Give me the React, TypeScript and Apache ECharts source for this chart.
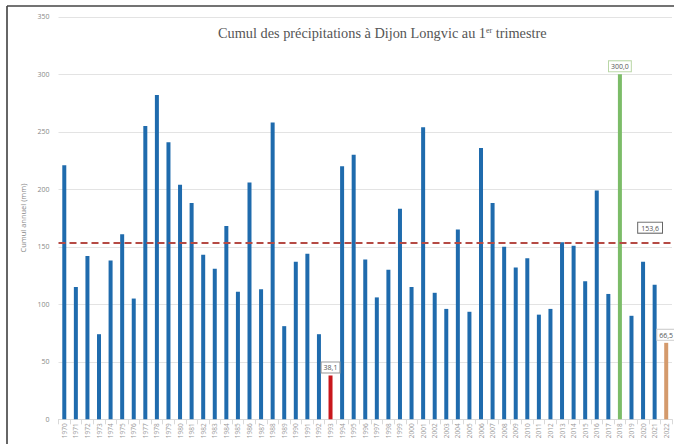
import React, { useEffect, useRef } from "react";
import * as echarts from "echarts";

const years: string[] = [];
for (let y = 1970; y <= 2022; y++) years.push(String(y));

const values: number[] = [
  221, 115, 142, 74, 138, 161, 105, 255, 282, 241,
  204, 188, 143, 131, 168, 111, 206, 113, 258, 81,
  137, 144, 74, 38.1, 220, 230, 139, 106, 130, 183,
  115, 254, 110, 96, 165, 93.5, 236, 188, 150, 132,
  140, 91, 96, 154, 151, 120, 199, 109, 300, 90,
  137, 117, 66.5,
];

const average = 153.6;
const yTicks = { min: 0, max: 350, interval: 50 };

const highlight: Record<string, { color: string; label: string; border: string }> = {
  "1993": { color: "#c8171c", label: "38,1", border: "#999" },
  "2018": { color: "#7cbc68", label: "300,0", border: "#b9d6a6" },
  "2022": { color: "#d49a6c", label: "66,5", border: "#ccc" },
};

export default function App() {
  const ref = useRef<HTMLDivElement>(null);
  useEffect(() => {
    if (!ref.current) return;
    const chart = echarts.init(ref.current, undefined, { renderer: "svg" });
    const data = values.map((v, i) => {
      const h = highlight[years[i]];
      if (!h) return { value: v };
      return {
        value: v,
        itemStyle: { color: h.color },
        label: {
          show: true,
          position: "top",
          distance: 3,
          formatter: h.label,
          fontSize: 7,
          color: "#555",
          fontFamily: "Open Sans",
          backgroundColor: "#fff",
          borderColor: h.border,
          borderWidth: 1,
          padding: [2, 2, 1, 2],
        },
      };
    });
    chart.setOption({
      animation: false,
      backgroundColor: "#fff",
      title: {
        text: "{a|Cumul des précipitations à Dijon Longvic au 1}{s|er}{a| trimestre}",
        left: 213,
        top: 21,
        textStyle: {
          fontWeight: "normal",
          rich: {
            a: { fontFamily: "Liberation Serif", fontSize: 14.3, fontWeight: "normal", color: "#555" },
            s: { fontFamily: "Liberation Serif", fontSize: 8, fontWeight: "normal", color: "#555", verticalAlign: "top" },
          },
        },
      },
      grid: { left: 58.5, right: 2, top: 16.8, bottom: 24.7, containLabel: false },
      xAxis: {
        type: "category",
        data: years,
        axisLine: { lineStyle: { color: "#d9d9d9" } },
        axisTick: { show: true, lineStyle: { color: "#d9d9d9" } },
        axisLabel: { rotate: 90, interval: 0, fontSize: 6.5, color: "#999", margin: 4, fontFamily: "Open Sans" },
      },
      yAxis: {
        type: "value",
        min: yTicks.min,
        max: yTicks.max,
        interval: yTicks.interval,
        name: "Cumul annuel (mm)",
        nameLocation: "middle",
        nameGap: 27,
        nameTextStyle: { fontSize: 7.5, color: "#888", fontFamily: "Open Sans" },
        axisLine: { show: false },
        axisTick: { show: false },
        axisLabel: { fontSize: 7, color: "#888", margin: 9, fontFamily: "Open Sans" },
        splitLine: { lineStyle: { color: "#e3e3e3" } },
      },
      series: [
        {
          type: "bar",
          data,
          barWidth: 4,
          itemStyle: { color: "#1f6bad" },
          markLine: {
            silent: true,
            symbol: "none",
            data: [{ yAxis: average }],
            lineStyle: { color: "#b54a44", type: [7, 4], width: 2 },
            label: {
              show: true,
              position: "insideEndTop",
              formatter: "153,6",
              fontSize: 7,
              color: "#555",
              fontFamily: "Open Sans",
              backgroundColor: "#fff",
              borderColor: "#666",
              borderWidth: 1,
              padding: [2, 3, 1, 3],
              distance: [10, 10],
            },
          },
        },
      ],
      graphic: [
        { type: "line", shape: { x1: 7, y1: 6, x2: 7, y2: 444 }, style: { stroke: "#333", lineWidth: 1.5 } },
        { type: "line", shape: { x1: 7, y1: 6, x2: 674, y2: 6 }, style: { stroke: "#444", lineWidth: 1.5 } },
      ],
    });
    return () => chart.dispose();
  }, []);
  return <div ref={ref} style={{ position: "fixed", left: 0, top: 0, width: 674, height: 444 }} />;
}
